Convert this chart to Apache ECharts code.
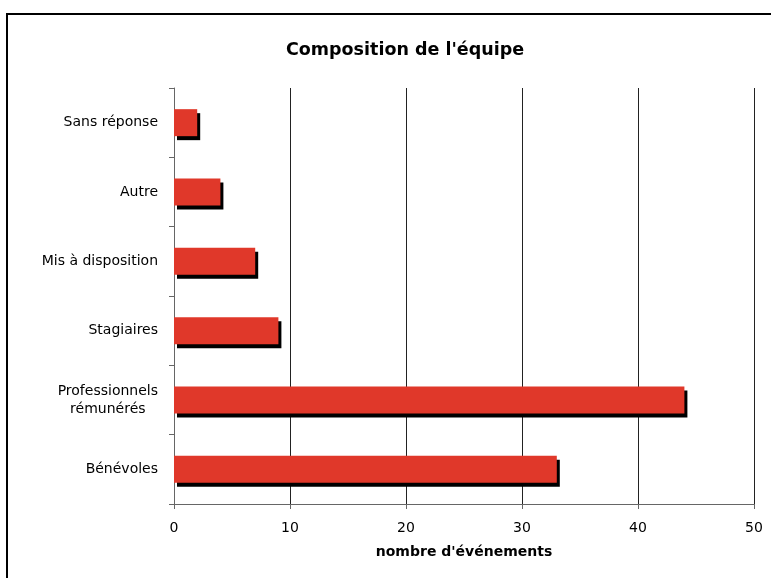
<!DOCTYPE html>
<html>
<head>
<meta charset="utf-8">
<script src="https://cdn.jsdelivr.net/npm/echarts@6/dist/echarts.min.js"></script>
<style>
  html, body { margin: 0; padding: 0; background: #fff; }
  #chart { width: 771px; height: 578px; }
</style>
</head>
<body>
<div id="chart"></div>
<script>
  // categories bottom -> top
  var categories = ["Bénévoles", "Professionnels\nrémunérés", "Stagiaires", "Mis à disposition", "Autre", "Sans réponse"];
  var counts = [33, 44, 9, 7, 4, 2];
  var xTicks = [0, 10, 20, 30, 40, 50];

  var chart = echarts.init(document.getElementById("chart"));
  var font = "DejaVu Sans";

  chart.setOption({
    animation: false,
    backgroundColor: "#fff",
    title: {
      text: "Composition de l'équipe",
      left: 400,
      top: 36,
      textAlign: "center",
      textStyle: { fontFamily: font, fontWeight: "bold", fontSize: 17.5, color: "#000" }
    },
    graphic: [{
      type: "rect",
      shape: { x: 7, y: 14, width: 900, height: 700 },
      style: { fill: "none", stroke: "#000", lineWidth: 2 },
      silent: true
    }],
    grid: { left: 174, right: 17, top: 88, bottom: 74 },
    xAxis: {
      type: "value",
      min: xTicks[0],
      max: xTicks[xTicks.length - 1],
      interval: 10,
      name: "nombre d'événements",
      nameLocation: "middle",
      nameGap: 41,
      nameTextStyle: { fontFamily: font, fontWeight: "bold", fontSize: 14, color: "#000" },
      axisLine: { show: true, lineStyle: { color: "#666", width: 1 } },
      axisTick: { show: true, length: 5, lineStyle: { color: "#666" } },
      axisLabel: { fontFamily: font, fontSize: 14, color: "#000", margin: 17 },
      splitLine: { show: true, lineStyle: { color: "#222", width: 1 } }
    },
    yAxis: {
      type: "category",
      data: categories,
      axisLine: { show: true, lineStyle: { color: "#666", width: 1 } },
      axisTick: { show: true, length: 5, lineStyle: { color: "#666" } },
      axisLabel: {
        fontFamily: font, fontSize: 14, color: "#000", margin: 16, lineHeight: 18, align: "right",
        formatter: function (v) {
          if (v.indexOf("\n") < 0) return v;
          return v.split("\n").map(function (s) { return "{c|" + s + "}"; }).join("\n");
        },
        rich: { c: { align: "center", fontFamily: font, fontSize: 14, lineHeight: 18, color: "#000" } }
      },
      splitLine: { show: false }
    },
    series: [{
      type: "bar",
      data: counts,
      barWidth: 27,
      itemStyle: {
        color: "#e0382a",
        shadowColor: "#000",
        shadowBlur: 0,
        shadowOffsetX: 3,
        shadowOffsetY: 4
      }
    }]
  });
</script>
</body>
</html>
